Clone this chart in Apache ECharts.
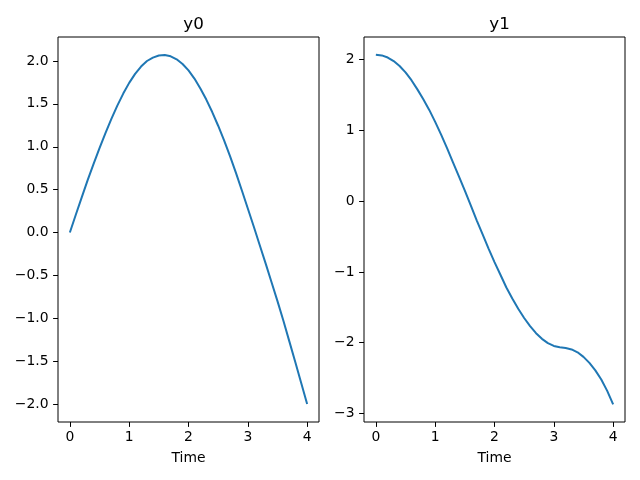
<!DOCTYPE html>
<html>
<head>
<meta charset="utf-8">
<script src="https://cdn.jsdelivr.net/npm/echarts@6/dist/echarts.min.js"></script>
<style>
  html, body { margin: 0; padding: 0; background: #fff; }
  #chart { width: 640px; height: 480px; }
</style>
</head>
<body>
<div id="chart"></div>
<script>
// sample times
const time = [0, 0.1, 0.2, 0.3, 0.4, 0.5, 0.6, 0.7, 0.8, 0.9, 1.0,
              1.1, 1.2, 1.3, 1.4, 1.5, 1.6, 1.7, 1.8, 1.9, 2.0,
              2.1, 2.2, 2.3, 2.4, 2.5, 2.6, 2.7, 2.8, 2.9, 3.0,
              3.1, 3.2, 3.3, 3.4, 3.5, 3.6, 3.7, 3.8, 3.9, 4.0];
// values
const y0 = [0, 0.207, 0.41, 0.61, 0.80, 0.985, 1.16, 1.325, 1.48, 1.62, 1.745,
            1.85, 1.935, 2.00, 2.04, 2.065, 2.07, 2.055, 2.02, 1.965, 1.89,
            1.795, 1.68, 1.55, 1.405, 1.245, 1.075, 0.89, 0.695, 0.49, 0.28,
            0.07, -0.145, -0.36, -0.58, -0.80, -1.03, -1.27, -1.51, -1.755, -2.0];
const y1 = [2.07, 2.06, 2.03, 1.98, 1.91, 1.82, 1.71, 1.58, 1.44, 1.29, 1.12,
            0.94, 0.75, 0.55, 0.35, 0.15, -0.06, -0.27, -0.47, -0.67, -0.86,
            -1.04, -1.22, -1.375, -1.52, -1.65, -1.765, -1.865, -1.945, -2.005, -2.045,
            -2.065, -2.075, -2.095, -2.135, -2.20, -2.285, -2.39, -2.52, -2.68, -2.87];

const xTicks = [0, 1, 2, 3, 4];
const y0Ticks = [-2.0, -1.5, -1.0, -0.5, 0.0, 0.5, 1.0, 1.5, 2.0];
const y1Ticks = [-3, -2, -1, 0, 1, 2];

const FONT = 'DejaVu Sans';

function fmt(v, digits) {
    const s = Math.abs(v).toFixed(digits);
    return v < 0 ? '\u2212' + s : s;
}

function xAxisFor(gridIndex) {
    return {
        type: 'value',
        gridIndex,
        min: -0.2,
        max: 4.2,
        name: 'Time',
        nameLocation: 'middle',
        nameGap: 29,
        nameTextStyle: { fontFamily: FONT, fontSize: 13.9, color: '#000' },
        axisLine: { show: false, onZero: false },
        splitLine: { show: false },
        axisTick: { show: true, inside: false, length: 4.9, customValues: xTicks,
                    lineStyle: { color: '#000', width: 1 } },
        axisLabel: { customValues: xTicks, margin: 8.5, fontFamily: FONT, fontSize: 13.9, color: '#000',
                     formatter: (v) => fmt(v, 0) },
    };
}

function yAxisFor(gridIndex, min, max, ticks, digits) {
    return {
        type: 'value',
        gridIndex,
        min, max,
        axisLine: { show: false, onZero: false },
        splitLine: { show: false },
        axisTick: { show: true, inside: false, length: 4.9, customValues: ticks,
                    lineStyle: { color: '#000', width: 1 } },
        axisLabel: { customValues: ticks, margin: 9.5, fontFamily: FONT, fontSize: 13.9, color: '#000',
                     formatter: (v) => fmt(v, digits) },
    };
}

const chart = echarts.init(document.getElementById('chart'));
chart.setOption({
    animation: false,
    backgroundColor: '#fff',
    title: [
        { text: 'y0', left: 188.5, top: 11, textAlign: 'center',
          textStyle: { fontFamily: FONT, fontSize: 16.7, fontWeight: 'normal', color: '#000' } },
        { text: 'y1', left: 494.5, top: 11, textAlign: 'center',
          textStyle: { fontFamily: FONT, fontSize: 16.7, fontWeight: 'normal', color: '#000' } },
    ],
    grid: [
        { left: 58, top: 37, width: 261, height: 385, show: true, borderColor: '#000', borderWidth: 1 },
        { left: 364, top: 37, width: 261, height: 385, show: true, borderColor: '#000', borderWidth: 1 },
    ],
    xAxis: [xAxisFor(0), xAxisFor(1)],
    yAxis: [
        yAxisFor(0, -2.21, 2.28, y0Ticks, 1),
        yAxisFor(1, -3.12, 2.32, y1Ticks, 0),
    ],
    series: [
        { type: 'line', xAxisIndex: 0, yAxisIndex: 0, showSymbol: false,
          lineStyle: { color: '#1f77b4', width: 2 },
          data: time.map((t, i) => [t, y0[i]]) },
        { type: 'line', xAxisIndex: 1, yAxisIndex: 1, showSymbol: false,
          lineStyle: { color: '#1f77b4', width: 2 },
          data: time.map((t, i) => [t, y1[i]]) },
    ],
});
</script>
</body>
</html>
